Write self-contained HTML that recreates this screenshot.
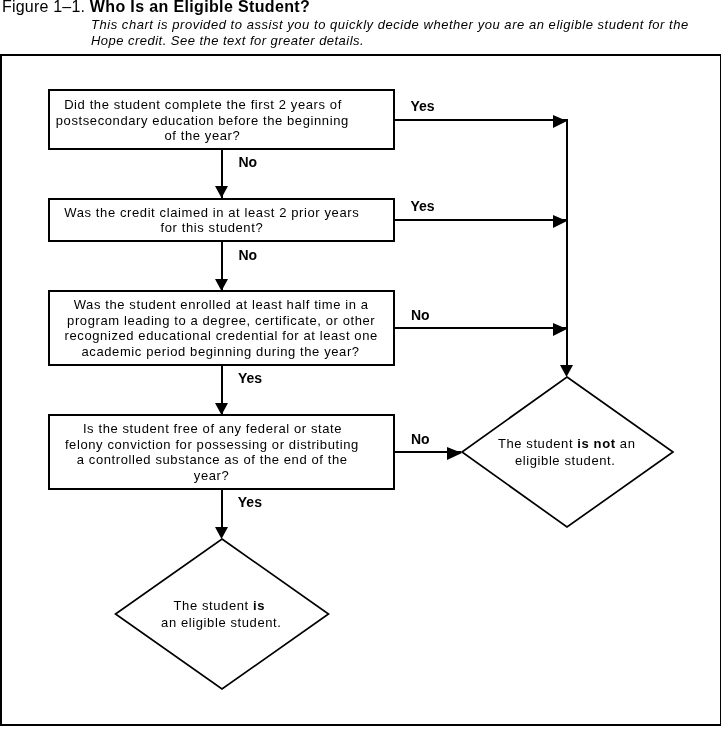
<!DOCTYPE html>
<html><head><meta charset="utf-8">
<style>
html,body{margin:0;padding:0;background:#fff;}
body{width:721px;height:733px;overflow:hidden;position:relative;}
svg{position:absolute;left:0;top:0;will-change:transform;}
text{font-family:"Liberation Sans",sans-serif;fill:#000;}
.t{font-size:13px;letter-spacing:0.6px;}
.l{font-size:14px;font-weight:bold;letter-spacing:0px;}
</style></head>
<body>
<svg width="721" height="733" viewBox="0 0 721 733">
<!-- header -->
<text x="2" y="11.8" style="font-size:16px;letter-spacing:0.2px">Figure 1–1. <tspan font-weight="bold" style="letter-spacing:0.36px">Who Is an Eligible Student?</tspan></text>
<text x="91" y="29.4" style="font-size:13px;font-style:italic;letter-spacing:0.54px">This chart is provided to assist you to quickly decide whether you are an eligible student for the</text>
<text x="91" y="45" style="font-size:13px;font-style:italic;letter-spacing:0.47px">Hope credit. See the text for greater details.</text>

<!-- frame -->
<rect x="1" y="55" width="720" height="670" fill="none" stroke="#000" stroke-width="2"/>

<!-- boxes -->
<g fill="none" stroke="#000" stroke-width="2">
<rect x="49" y="90" width="345" height="59"/>
<rect x="49" y="199" width="345" height="42"/>
<rect x="49" y="291" width="345" height="74"/>
<rect x="49" y="415" width="345" height="74"/>
</g>
<g fill="none" stroke="#000" stroke-width="1.7">
<polygon points="567,377 673,452 567,527 462,452"/>
<polygon points="222,539 328.5,614 222,689 115.5,614"/>
</g>
<g fill="none" stroke="#000" stroke-width="2">
<!-- lines -->
<line x1="394" y1="120" x2="568" y2="120"/>
<line x1="394" y1="220" x2="566" y2="220"/>
<line x1="394" y1="328" x2="566" y2="328"/>
<line x1="394" y1="452" x2="461" y2="452"/>
<line x1="567" y1="119" x2="567" y2="370"/>
<line x1="222" y1="149" x2="222" y2="198"/>
<line x1="222" y1="241" x2="222" y2="290"/>
<line x1="222" y1="365" x2="222" y2="414"/>
<line x1="222" y1="489" x2="222" y2="534"/>
</g>
<g fill="#000">
<polygon points="553,115 553,128 567,121"/>
<polygon points="553,215 553,228 567,221"/>
<polygon points="553,323 553,336 567,329"/>
<polygon points="447,447 447,460 462,453"/>
<polygon points="560,365 573,365 566.5,377"/>
<polygon points="215,186 228,186 221.5,198"/>
<polygon points="215,279 228,279 221.5,291"/>
<polygon points="215,403 228,403 221.5,415"/>
<polygon points="215,527 228,527 221.5,539"/>
</g>

<!-- box text -->
<g class="t" text-anchor="middle">
<text class="t" x="203" y="108.8">Did the student complete the first 2 years of</text>
<text class="t" x="202.3" y="124.5">postsecondary education before the beginning</text>
<text class="t" x="202.4" y="139.5">of the year?</text>

<text class="t" x="211.8" y="217">Was the credit claimed in at least 2 prior years</text>
<text class="t" x="211.9" y="232">for this student?</text>

<text class="t" x="221.2" y="308.8">Was the student enrolled at least half time in a</text>
<text class="t" x="221.2" y="324.5">program leading to a degree, certificate, or other</text>
<text class="t" x="221.2" y="340">recognized educational credential for at least one</text>
<text class="t" x="220.6" y="356.2">academic period beginning during the year?</text>

<text class="t" x="212.5" y="432.8">Is the student free of any federal or state</text>
<text class="t" x="211.9" y="448.5">felony conviction for possessing or distributing</text>
<text class="t" x="212.2" y="464">a controlled substance as of the end of the</text>
<text class="t" x="211.6" y="480.2">year?</text>

<text class="t" x="566.7" y="448.3">The student <tspan font-weight="bold">is not</tspan> an</text>
<text class="t" x="565.2" y="464.5">eligible student.</text>

<text class="t" x="219.3" y="610.4">The student <tspan font-weight="bold">is</tspan></text>
<text class="t" x="221.3" y="626.5">an eligible student.</text>
</g>

<!-- labels -->
<text class="l" x="410.5" y="110.5">Yes</text>
<text class="l" x="238.5" y="166.7">No</text>
<text class="l" x="410.5" y="210.8">Yes</text>
<text class="l" x="238.5" y="259.5">No</text>
<text class="l" x="411" y="320">No</text>
<text class="l" x="238" y="382.8">Yes</text>
<text class="l" x="411" y="444">No</text>
<text class="l" x="237.8" y="506.9">Yes</text>
</svg>
</body></html>
